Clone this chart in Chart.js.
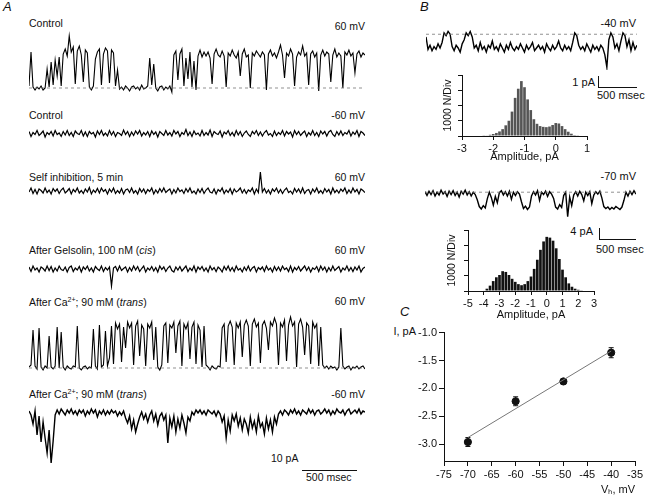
<!DOCTYPE html>
<html>
<head>
<meta charset="utf-8">
<script src="https://cdn.jsdelivr.net/npm/chart.js@4.4.0/dist/chart.umd.min.js"></script>
<style>
  html, body { margin: 0; padding: 0; background: #fff; }
  #fig { position: relative; width: 645px; height: 497px; overflow: hidden;
         font-family: "Liberation Sans", Arial, Helvetica, sans-serif; color: #111; }
  #fig canvas { position: absolute; }
  .t { position: absolute; white-space: nowrap; font-size: 10.5px; line-height: 12px; }
  .b { font-size: 11px; line-height: 13px; }
  .panel { font-style: italic; font-size: 13px; line-height: 14px; }
  .bar { position: absolute; background: #111; }
  sup { font-size: 7px; line-height: 0; }
</style>
</head>
<body>
<div id="fig">
  <!-- panel A labels -->
  <div class="t panel" style="left:3px;top:0px">A</div>
  <div class="t" style="left:29px;top:17px">Control</div>
  <div class="t" style="right:280px;top:20px">60 mV</div>
  <div class="t" style="left:29px;top:109px">Control</div>
  <div class="t" style="right:280px;top:109px">-60 mV</div>
  <div class="t" style="left:29px;top:171px">Self inhibition, 5 min</div>
  <div class="t" style="right:280px;top:171px">60 mV</div>
  <div class="t" style="left:29px;top:244px">After Gelsolin, 100 nM (<i>cis</i>)</div>
  <div class="t" style="right:280px;top:244px">60 mV</div>
  <div class="t" style="left:29px;top:296px">After Ca<sup>2+</sup>; 90 mM (<i>trans</i>)</div>
  <div class="t" style="right:280px;top:295px">60 mV</div>
  <div class="t" style="left:29px;top:388px">After Ca<sup>2+</sup>; 90 mM (<i>trans</i>)</div>
  <div class="t" style="right:280px;top:388px">-60 mV</div>
  <div class="t" style="left:271px;top:452px">10 pA</div>
  <div class="bar" style="left:302px;top:470px;width:55px;height:1px"></div>
  <div class="t" style="left:306px;top:471px">500 msec</div>

  <!-- panel B labels -->
  <div class="t panel" style="left:420px;top:0px">B</div>
  <div class="t b" style="right:9px;top:17px">-40 mV</div>
  <div class="t b" style="right:50px;top:76px">1 pA</div>
  <div class="bar" style="left:598px;top:76px;width:1px;height:11px"></div>
  <div class="bar" style="left:598px;top:87px;width:39px;height:1px"></div>
  <div class="t b" style="left:597px;top:89px">500 msec</div>
  <div class="t b" style="right:9px;top:170px">-70 mV</div>
  <div class="t b" style="right:52px;top:225px">4 pA</div>
  <div class="bar" style="left:599px;top:228px;width:1px;height:11px"></div>
  <div class="bar" style="left:599px;top:239px;width:37px;height:1px"></div>
  <div class="t b" style="left:596px;top:243px">500 msec</div>

  <!-- panel C labels -->
  <div class="t panel" style="left:400px;top:305px">C</div>
  <div class="t b" style="right:229px;top:325px">I, pA</div>
</div>

<script>
// ---- Panel A traces (pA, one sample every 2 px) ----
const traceControl60 = [
  0.2, 3.6, 0.1, -0.2, 0.1, -0.1, 0.2, -0.2, 0.0, 1.9,
  0.1, 2.6, 0.3, 2.8, 1.2, 3.1, 0.2, 3.4, 3.9, 3.2,
  5.2, 3.6, 4.1, 0.4, 3.7, 4.2, 3.3, 0.6, 3.8, 3.5,
  0.1, -0.2, 0.2, 2.9, 3.6, 3.9, 0.3, 3.4, 4.0, 3.7,
  0.5, 3.8, 3.5, 0.2, 1.8, -0.1, 0.1, -0.2, 0.2, 0.0,
  -0.3, 0.1, 0.2, -0.1, 0.1, -0.2, 0.3, -0.1, 0.0, 0.2,
  3.0, 0.3, 2.4, 0.0, -0.3, 0.1, 0.2, -0.2, 0.1, -0.1,
  0.2, -0.4, 3.3, 3.7, 0.8, 3.4, 3.9, 0.2, 3.0, 0.9,
  3.6, 0.1, 2.7, -0.2, 3.2, 3.8, 3.1, 3.6,
  3.2, 3.6, 3.0, 0.4, 3.4, 3.9, 3.3, 3.1, 3.7, 3.2,
  0.1, 3.5, 3.2, 3.8, 3.3, 3.0, 3.6, 1.2, 3.4, 3.9,
  3.1, 3.3, 0.0, 3.5, 3.2, 3.7, 3.4, 3.1, 3.6, 3.3,
  -0.2, 3.4, 3.8, 3.2, 3.5, 3.0, 3.6, 4.3, 3.3, 1.0,
  3.5, 3.2, 3.9, 3.4, 0.2, 3.1, 3.6, 3.3, 4.2, 3.2,
  3.5, 0.3, 3.4, 3.7, 3.1, 3.5, -0.3, 3.3, 3.8, 3.2,
  3.6, 3.4, 0.6, 3.3, 3.9, 3.1, 3.5, 3.2, 0.0, 3.6,
  3.3, 3.8, 3.2, 3.5, 1.5, 3.4, 3.7, 3.1, 3.5, 3.3
];

const traceControlMinus60 = [
  0.2, -0.3, 0.1, -0.1, 0.3, -0.2, 0.0, 0.25, -0.35, 0.1, -0.1, 0.2, -0.25, 0.3, -0.1, 0.05, -0.3, 0.2, -0.15, 0.3,
  -0.2, 0.1, -0.3, 0.25, 0.0, -0.1, 0.3, -0.25, 0.15, -0.3, 0.2, -0.05, 0.1, -0.35, 0.25, -0.1, 0.3, -0.2, 0.05, -0.25,
  0.3, -0.15, 0.2, -0.3, 0.1, 0.0, -0.2, 0.35, -0.1, 0.2, -0.3, 0.15, -0.2, 0.25, -0.05, 0.3, -0.25, 0.1, -0.15, 0.2,
  -0.3, 0.25, -0.1, 0.15, -0.35, 0.2, 0.0, -0.2, 0.3, -0.15, 0.1, -0.25, 0.3, -0.05, 0.2, -0.3, 0.1, -0.1, 0.4, -0.2,
  0.15, -0.3, 0.25, -0.1, 0.05, -0.25, 0.3, -0.2, 0.1, -0.15, 0.35, -0.3, 0.2, 0.0, -0.1, 0.25, -0.35, 0.15, -0.05, 0.3,
  -0.2, 0.1, -0.25, 0.3, -0.15, 0.2, -0.3, 0.05, 0.25, -0.1, -0.3, 0.2, -0.05, 0.3, -0.2, 0.15, -0.25, 0.1, 0.3, -0.15,
  0.0, -0.3, 0.25, -0.2, 0.1, -0.1, 0.3, -0.25, 0.2, -0.05, 0.15, -0.35, 0.3, -0.1, 0.2, -0.2, 0.05, 0.25, -0.3, 0.1,
  -0.15, 0.3, -0.2, 0.1, -0.3, 0.25, -0.05, 0.2, -0.25, 0.15, 0.3, -0.1, -0.3, 0.2, -0.15, 0.25, -0.2, 0.1, -0.05, 0.3,
  -0.25, 0.15, -0.1, 0.3, -0.3, 0.2, 0.05, -0.2
];

const traceSelfInhib = [
  -0.1, 0.3, -0.25, 0.15, -0.3, 0.2, 0.05, -0.2, 0.3, -0.15, 0.1, -0.3, 0.25, -0.05, 0.2, -0.25, 0.1, 0.3, -0.2, 0.0,
  0.25, -0.3, 0.15, -0.1, 0.3, -0.2, 0.05, -0.25, 0.2, -0.1, 0.35, -0.3, 0.1, -0.15, 0.25, -0.2, 0.3, -0.05, 0.15, -0.3,
  0.2, -0.1, 0.3, -0.25, 0.05, -0.2, 0.25, -0.3, 0.1, 0.2, -0.15, 0.3, -0.2, 0.05, -0.3, 0.25, -0.1, 0.2, -0.25, 0.15,
  -0.05, 0.3, -0.3, 0.1, -0.2, 0.25, -0.1, 0.3, -0.15, 0.05, 0.2, -0.3, 0.15, -0.2, 0.3, -0.05, 0.1, -0.25, 0.25, -0.1,
  0.3, -0.2, 0.0, -0.3, 0.2, -0.15, 0.25, -0.25, 0.1, 0.3, -0.1, -0.2, 0.2, -0.3, 0.15, -0.05, 0.3, -0.25, 0.1, -0.15,
  0.25, -0.3, 0.2, -0.1, 0.05, 0.3, -0.2, 0.15, -0.25, 0.1, -0.05, 0.3, -0.3, 0.2, -0.15, 1.9, -0.1, 0.25, -0.2, 0.1,
  -0.3, 0.2, -0.05, 0.3, -0.2, 0.15, -0.25, 0.1, 0.3, -0.15, 0.0, -0.3, 0.25, -0.1, 0.2, -0.2, 0.3, -0.25, 0.05, 0.15,
  -0.3, 0.2, -0.1, 0.3, -0.2, 0.05, -0.25, 0.25, -0.1, 0.15, -0.3, 0.3, -0.15, 0.1, -0.2, 0.2, -0.05, 0.3, -0.25, 0.1,
  -0.2, 0.3, -0.1, 0.15, -0.3, 0.2, 0.05, -0.15
];

const traceGelsolin = [
  0.2, -0.25, 0.3, -0.1, 0.1, -0.3, 0.2, 0.05, -0.2, 0.3, -0.15, 0.25, -0.3, 0.1, -0.2, 0.3, -0.05, -0.15, 0.2, -0.3,
  0.15, 0.3, -0.25, 0.1, -0.1, 0.25, -0.3, 0.2, -0.05, 0.3, -0.2, 0.1, -0.3, 0.25, 0.0, -0.15, 0.3, -0.25, 0.15, -0.1,
  0.2, -1.7, 0.1, 0.25, -0.2, 0.3, -0.15, 0.05, 0.2, -0.3, 0.15, -0.2, 0.3, -0.1, 0.25, -0.25, 0.05, 0.3, -0.3, 0.1,
  -0.1, 0.25, -0.2, 0.15, -0.3, 0.3, -0.05, 0.2, -0.25, 0.1, 0.3, -0.15, -0.3, 0.2, -0.1, 0.25, -0.2, 0.05, 0.3, -0.25,
  0.1, -0.15, 0.3, -0.3, 0.2, -0.05, 0.25, -0.2, 0.1, -0.3, 0.3, -0.1, 0.15, -0.25, 0.2, 0.0, -0.3, 0.25, -0.1, 0.3,
  -0.2, 0.15, -0.25, 0.3, -0.1, 0.05, -0.3, 0.2, -0.15, 0.3, -0.2, 0.1, 0.25, -0.3, 0.15, -0.05, 0.2, -0.25, 0.3, -0.1,
  0.1, -0.3, 0.25, -0.15, 0.2, -0.2, 0.3, -0.05, 0.1, -0.25, 0.3, -0.3, 0.15, -0.1, 0.25, -0.2, 0.05, 0.3, -0.15, 0.2,
  -0.3, 0.1, -0.05, 0.25, -0.25, 0.3, -0.1, 0.2, -0.3, 0.15, -0.2, 0.3, -0.15, 0.05, 0.25, -0.3, 0.1, -0.1, 0.3, -0.2,
  0.15, -0.25, 0.2, -0.1, 0.3, -0.3, 0.05, 0.2
];

const traceCa60 = [
  0.1, 0.3, 3.8, 0.2, -0.1, 4.0, 0.1, -0.2, 0.2, 0.0,
  3.2, 0.1, -0.1, 0.2, 4.1, 0.0, 3.6, 0.1, -0.2, 0.2,
  0.0, -0.1, 0.2, 0.1, 4.2, 0.0, -0.2, 0.1, 0.2, -0.1,
  0.1, 0.0, 3.9, 0.2, -0.1, 4.3, 0.1, 0.3, 3.7, 0.2,
  1.0, 4.2, 0.4, 4.5, 3.9, 4.4, 0.6, 4.1, 2.0, 4.6,
  4.0, 4.5, 0.3, 4.2, 4.7, 1.2, 4.3, 3.9, 0.2, 4.4,
  4.0, 4.6, 0.8, 4.1, 0.1, -0.2, 0.3, 4.2, 4.5, 0.5,
  4.3, 4.0, 4.6, 1.5, 4.2, 4.7, 0.2, 4.4, 3.9, 4.5,
  0.9, 4.1, 4.6, 0.4, 4.3, 3.8, 0.1, 4.2, 0.3, 0.1,
  -0.2, 0.2, 0.0, -0.1, 0.2, 0.1, 4.0, 4.4, 0.6, 4.2,
  4.7, 4.1, 0.3, 4.5, 4.0, 4.6, 1.1, 4.3, 4.8, 4.2,
  0.2, 4.4, 4.9, 4.1, 4.5, 0.5, 4.3, 4.7, 4.0, 1.8,
  4.6, 4.2, 5.0, 4.4, 0.3, 4.5, 4.1, 4.8, 0.7, 4.3,
  5.1, 4.2, 4.6, 0.1, 4.4, 4.9, 4.1, 1.3, 4.5, 4.2,
  0.4, 4.6, 4.0, 4.4, 0.2, 4.1, 0.3, 0.0, 0.2, -0.1,
  0.2, 0.0, 0.1, -0.2, 0.1, 4.0, 0.2, -0.1, 0.1, 0.2,
  -0.2, 0.1, 0.0, 0.2, -0.1, 0.1, 0.2, -0.1
];

const traceCaMinus60 = [
  0.1, -0.3, -1.2, 0.1, -2.3, -0.4, -3.0, -1.0, -2.6, -4.1,
  -1.8, -5.1, -2.9, -0.3, 0.2, -0.2, 0.3, 0.0, -0.3, 0.2,
  -0.1, 0.3, -0.2, 0.1, -0.3, 0.2, -0.1, 0.2, -0.4, 0.1,
  -0.2, 0.3, -0.1, 0.2, -0.5, 0.1, -0.2, 0.2, -0.3, 0.1,
  -0.2, 0.2, -0.1, 0.1, -0.4, 0.0, -0.3, 0.1, -0.6, -1.1,
  -0.4, -1.7, -0.8, -2.0, -1.2, -0.5, 0.0, -0.7, -0.2, -1.0,
  -0.3, 0.1, -0.9, -0.2, -1.3, -0.4, -0.1, -0.8, -0.3, -3.1,
  -0.6, -1.5, -0.4, -2.0, -0.7, -1.6, -0.3, -1.1, -2.1, -0.5,
  -0.9, 0.0, -0.3, 0.2, -0.1, 0.2, -0.2, 0.1, -0.3, 0.2,
  0.0, -0.2, 0.1, -0.4, 0.1, -0.2, -1.0, -0.4, -2.6, -0.8,
  -1.9, -0.3, -0.9, -0.2, -1.4, -0.6, -1.8, -0.7, -1.2, -2.1,
  -0.5, -1.6, -0.9, -2.0, -0.4, -1.5, -1.1, -2.2, -0.6, -1.7,
  -0.8, -2.0, -0.5, -1.2, -0.2, 0.1, -0.3, 0.2,
  0.0, -0.3, 0.2, -0.1, 0.3, -0.2, 0.1, -0.3, 0.2, 0.0,
  -0.2, 0.3, -0.1, 0.2, -0.3, 0.1, 0.2, -0.2, 0.0, 0.3,
  -0.1, 0.2, -0.3, 0.1, -0.2, 0.3, 0.0, -0.1, 0.2, -0.3,
  0.1, 0.3, -0.2, 0.0, 0.2, -0.1, 0.3, -0.2, 0.1, 0.0
];

// ---- Panel B traces (pA) ----
const traceMinus40 = [
  -0.2, -1.1, -0.8, -1.2, -0.9, -1.1, -0.7, -1.0, -0.6, 0.1,
  -0.1, 0.2, 0.0, -0.9, -1.2, -0.8, -1.0, -1.3, -0.7, -0.4,
  0.1, -0.1, 0.2, -0.2, -1.0, -0.8, -1.2, -0.6, -1.1, -0.9,
  -1.3, -0.8, -1.0, -0.5, -1.1, -0.9, -1.2, -0.7, -1.0, -1.3,
  -0.8, -1.1, -0.6, -1.0, -1.2, -0.9, -1.1, -0.7, -1.0, -1.3,
  -0.8, -1.1, -0.9, -0.6, -1.2, -1.0, -0.8, -1.1, -0.9, -1.3,
  -0.7, -1.0, -1.2, -0.8, -1.1, -0.9, -0.5, -1.0, -1.2, -0.8,
  -1.1, -0.9, -1.2, -0.6, 0.1, -0.1, -0.8, -1.1, -0.9, -1.2,
  -0.7, -1.0, -1.3, -0.8, -1.1, -0.9, -1.2, -0.8, -1.0, -1.5,
  -2.4, -0.4, 0.1, -0.2, -1.0, -0.7, -1.2, -0.5, 0.1, -0.1,
  -0.9, -0.4, -1.2, -0.6, -1.1, -0.8
];

const traceMinus70 = [
  0.3, -0.5, 0.4, -0.3, 0.5, -0.6, 0.2, -0.4, 0.6, -0.2,
  0.3, -0.7, 0.4, -0.3, 0.5, -0.5, 0.2, -0.8, 0.4, -0.2,
  0.6, -0.4, 0.3, -0.6, 0.2, -0.3, -1.4, -2.8, -3.3, -2.6,
  -3.1, -1.2, 0.2, -0.9, -2.5, -0.7, -2.0, 0.1, 0.5, -0.4,
  0.3, -0.6, 0.4, -1.3, 0.2, -0.5, 0.3, -0.2, -1.8, -3.2,
  -2.7, -3.4, -2.9, -0.6, 0.3, -0.4, 0.5, -1.5, 0.2, -0.3,
  0.4, -0.7, 0.3, -0.2, -1.1, -2.9, -3.3, -2.4, -3.0, -0.5,
  0.2, -4.9, -0.8, -2.6, -0.4, 0.3, -0.6, 0.4, -0.3, -1.6,
  0.2, -0.5, 0.3, -2.2, -0.4, 0.3, -0.2, 0.4, -1.0, -2.8,
  -3.2, -2.9, -3.4, -3.0, -3.3, -2.8, -3.1, -3.4, -2.9, -1.5,
  0.2, -0.6, 0.4, -0.3, 0.5, -0.2
];

// ---- Panel B histograms ----
const hist1Bins = [-2.3, -2.2, -2.1, -2.0, -1.9, -1.8, -1.7, -1.6, -1.5, -1.4, -1.3, -1.2, -1.1, -1.0, -0.9, -0.8,
  -0.7, -0.6, -0.5, -0.4, -0.3, -0.2, -0.1, 0.0, 0.1, 0.2, 0.3, 0.4, 0.5, 0.6, 0.7];
const hist1Counts = [20, 40, 80, 130, 200, 300, 450, 700, 1000, 1600, 2500, 3100, 3600, 3200, 2400, 1700,
  1100, 800, 650, 600, 580, 620, 720, 850, 820, 650, 450, 280, 150, 60, 20];
const hist1Ticks = [-3, -2, -1, 0, 1];

const hist2Bins = [-4.0, -3.8, -3.6, -3.4, -3.2, -3.0, -2.8, -2.6, -2.4, -2.2, -2.0, -1.8, -1.6, -1.4, -1.2, -1.0,
  -0.8, -0.6, -0.4, -0.2, 0.0, 0.2, 0.4, 0.6, 0.8, 1.0, 1.2, 1.4, 1.6, 1.8, 2.0, 2.2];
const hist2Counts = [30, 150, 350, 650, 900, 1050, 1300, 1250, 1050, 800, 600, 450, 380, 450, 650, 950,
  1450, 2050, 2700, 3250, 3550, 3500, 3300, 2800, 2100, 1400, 900, 500, 280, 150, 80, 20];
const hist2Ticks = [-5, -4, -3, -2, -1, 0, 1, 2, 3];
const countTicks = [0, 1000, 2000, 3000, 4000];

// ---- Panel C: I-V relation ----
const cVoltage = [-70, -60, -50, -40];
const cCurrent = [-2.96, -2.23, -1.875, -1.36];
const cError = [0.08, 0.08, 0.03, 0.09];
const cFitV = [-70, -40];
const cFitI = [-2.88, -1.33];
const cTicksX = [-75, -70, -65, -60, -55, -50, -45, -40, -35];
const cTicksY = [-3.0, -2.5, -2.0, -1.5, -1.0];

Chart.defaults.font.family = '"Liberation Sans", Arial, Helvetica, sans-serif';
Chart.defaults.color = '#111';

const fig = document.getElementById('fig');

function addCanvas(left, top, w, h) {
  const c = document.createElement('canvas');
  c.width = w; c.height = h;
  c.style.left = left + 'px'; c.style.top = top + 'px';
  c.style.width = w + 'px'; c.style.height = h + 'px';
  fig.appendChild(c);
  return c;
}

// one recording sweep on its own canvas, axes hidden
function traceChart(box, values, yMin, yMax, width, dashLevel) {
  const n = values.length;
  const datasets = [{
    data: values.map((v, i) => ({ x: i, y: v })),
    borderColor: '#000',
    borderWidth: width,
    pointRadius: 0,
    tension: 0,
  }];
  if (dashLevel !== undefined) {
    datasets.unshift({
      data: [{ x: 0, y: dashLevel }, { x: n - 1, y: dashLevel }],
      borderColor: '#777',
      borderWidth: 0.8,
      borderDash: [3, 3],
      pointRadius: 0,
    });
  }
  return new Chart(addCanvas(...box), {
    type: 'line',
    data: { datasets },
    options: {
      responsive: false,
      animation: false,
      events: [],
      layout: { padding: 0 },
      plugins: { legend: { display: false }, tooltip: { enabled: false } },
      scales: {
        x: { type: 'linear', display: false, min: 0, max: n - 1 },
        y: { display: false, min: yMin, max: yMax },
      },
    },
  });
}

traceChart([29, 28, 336, 68], traceControl60, -0.8, 6.0, 1.1, 0);
traceChart([29, 126, 336, 15], traceControlMinus60, -0.75, 0.75, 1.2);
traceChart([29, 169, 336, 29], traceSelfInhib, -0.7, 2.2, 1.2);
traceChart([29, 262, 336, 28], traceGelsolin, -2.1, 0.7, 1.2);
traceChart([29, 314, 336, 58], traceCa60, -0.4, 5.4, 1.1, 0);
traceChart([29, 402, 336, 66], traceCaMinus60, -5.6, 1.0, 1.4);
traceChart([426, 28, 211, 42], traceMinus40, -2.6, 0.45, 1.4, 0);
traceChart([425, 184, 211, 36], traceMinus70, -5.6, 1.9, 1.4, 0.2);

const axisGrid = len => ({ drawOnChartArea: false, color: '#111', tickLength: len, lineWidth: 1 });

function histChart(box, bins, counts, xTicks, fill, yWidth, xHeight) {
  return new Chart(addCanvas(...box), {
    type: 'bar',
    data: {
      datasets: [{
        data: bins.map((b, i) => ({ x: b, y: counts[i] })),
        backgroundColor: fill,
        borderWidth: 0,
        barPercentage: 0.85,
        categoryPercentage: 1,
      }],
    },
    options: {
      responsive: false,
      animation: false,
      events: [],
      layout: { padding: { top: 6, right: 10, left: 0, bottom: 0 } },
      plugins: { legend: { display: false }, tooltip: { enabled: false } },
      scales: {
        x: {
          type: 'linear',
          offset: false,
          min: xTicks[0],
          max: xTicks[xTicks.length - 1],
          afterBuildTicks: s => { s.ticks = xTicks.map(v => ({ value: v })); },
          afterFit: s => { s.height = xHeight; },
          ticks: { font: { size: 11 }, padding: 2, maxRotation: 0 },
          grid: { ...axisGrid(4), offset: false },
          border: { color: '#111' },
          title: { display: true, text: 'Amplitude, pA', font: { size: 11 }, padding: 0 },
        },
        y: {
          min: 0,
          max: 4000,
          afterBuildTicks: s => { s.ticks = countTicks.map(v => ({ value: v })); },
          afterFit: s => { s.width = yWidth; },
          ticks: { display: false },
          grid: axisGrid(4),
          border: { color: '#111' },
          title: { display: true, text: '1000 N/Div', font: { size: 10.5 }, padding: 0 },
        },
      },
    },
  });
}

histChart([442, 69, 155, 95], hist1Bins, hist1Counts, hist1Ticks, '#555', 20, 28);
histChart([446, 224, 158, 98], hist2Bins, hist2Counts, hist2Ticks, '#111', 22, 31);

// error bars drawn through the chart scales, under the markers
const errorBars = {
  id: 'errorBars',
  beforeDatasetsDraw(chart) {
    const { ctx, scales: { x, y } } = chart;
    ctx.save();
    ctx.strokeStyle = '#111';
    ctx.lineWidth = 1;
    cVoltage.forEach((v, i) => {
      const px = x.getPixelForValue(v);
      const hi = y.getPixelForValue(cCurrent[i] + cError[i]);
      const lo = y.getPixelForValue(cCurrent[i] - cError[i]);
      ctx.beginPath();
      ctx.moveTo(px, hi); ctx.lineTo(px, lo);
      ctx.moveTo(px - 2.5, hi); ctx.lineTo(px + 2.5, hi);
      ctx.moveTo(px - 2.5, lo); ctx.lineTo(px + 2.5, lo);
      ctx.stroke();
    });
    ctx.restore();
  },
};

new Chart(addCanvas(400, 324, 245, 173), {
  type: 'scatter',
  data: {
    datasets: [
      {
        data: cFitV.map((v, i) => ({ x: v, y: cFitI[i] })),
        showLine: true,
        borderColor: '#777',
        borderWidth: 1,
        pointRadius: 0,
      },
      {
        data: cVoltage.map((v, i) => ({ x: v, y: cCurrent[i] })),
        backgroundColor: '#111',
        borderColor: '#111',
        pointRadius: 3.6,
      },
    ],
  },
  plugins: [errorBars],
  options: {
    responsive: false,
    animation: false,
    events: [],
    layout: { padding: { top: 8, right: 7, left: 0, bottom: 0 } },
    plugins: { legend: { display: false }, tooltip: { enabled: false } },
    scales: {
      x: {
        type: 'linear',
        min: -75,
        max: -35,
        afterBuildTicks: s => { s.ticks = cTicksX.map(v => ({ value: v })); },
        afterFit: s => { s.height = 36; },
        ticks: { font: { size: 11 }, padding: 2, maxRotation: 0, callback: v => String(v) },
        grid: axisGrid(5),
        border: { color: '#111' },
        title: { display: true, text: 'Vₕ, mV', align: 'end', font: { size: 11 }, padding: 0 },
      },
      y: {
        min: -3.3,
        max: -1.0,
        afterBuildTicks: s => { s.ticks = cTicksY.map(v => ({ value: v })); },
        afterFit: s => { s.width = 44; },
        ticks: { font: { size: 11 }, padding: 2, callback: v => v.toFixed(1) },
        grid: axisGrid(5),
        border: { color: '#111' },
      },
    },
  },
});
</script>
</body>
</html>
